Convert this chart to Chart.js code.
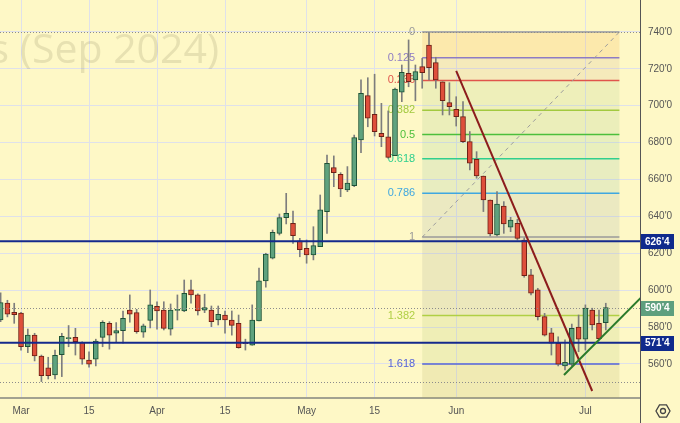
<!DOCTYPE html>
<html>
<head>
<meta charset="utf-8">
<script src="https://cdn.jsdelivr.net/npm/chart.js@4"></script>
<style>
  html, body { margin: 0; padding: 0; background: #fef8c6; }
  canvas { display: block; }
</style>
</head>
<body>
<canvas id="chart" width="680" height="423"></canvas>
<script>
// daily bars, wheat futures Sep 2024
const dates = ['Feb 27','Feb 28','Feb 29','Mar 1','Mar 4','Mar 5','Mar 6','Mar 7','Mar 8','Mar 11','Mar 12','Mar 13','Mar 14','Mar 15','Mar 18','Mar 19','Mar 20','Mar 21','Mar 22','Mar 25','Mar 26','Mar 27','Mar 28','Apr 1','Apr 2','Apr 3','Apr 4','Apr 5','Apr 8','Apr 9','Apr 10','Apr 11','Apr 12','Apr 15','Apr 16','Apr 17','Apr 18','Apr 19','Apr 22','Apr 23','Apr 24','Apr 25','Apr 26','Apr 29','Apr 30','May 1','May 2','May 3','May 6','May 7','May 8','May 9','May 10','May 13','May 14','May 15','May 16','May 17','May 20','May 21','May 22','May 23','May 24','May 28','May 29','May 30','May 31','Jun 3','Jun 4','Jun 5','Jun 6','Jun 7','Jun 10','Jun 11','Jun 12','Jun 13','Jun 14','Jun 17','Jun 18','Jun 20','Jun 21','Jun 24','Jun 25','Jun 26','Jun 27','Jun 28','Jul 1','Jul 2','Jul 3','Jul 5'];
const opens = [583.8,593,588,587.5,569.3,575.6,564.3,557.8,554,565,573.7,574.4,571.5,562.1,562.5,574.4,582,576.6,578,589.2,587.8,577.2,583.6,591.2,589.2,578.8,589,588.7,600.1,597.4,589.2,589.2,583.8,586.5,583.8,582,571.5,570.1,583.3,605,617.3,630.8,639.3,636.2,626.8,622.7,619.1,623.6,642.6,666.4,662.8,654.3,656.7,681.4,705.5,695.4,685.1,683.2,672.9,707.3,717.6,714,721.2,732.9,723.4,713,701.7,698.1,694.1,680.5,671,661.9,648.9,629.9,645.6,634.1,636.2,627.2,608.3,600.1,585.6,576.9,571.2,558.9,559.8,579.9,573.4,589.2,582,582.4];
const highs = [598.6,594.5,592.9,588,578.9,576.6,564.8,563.6,567.5,576.6,580.8,579.3,572,566.6,573.4,583.4,582.9,582.4,588.7,597.4,589.6,581.6,600.1,593.7,593.7,592.5,597.4,605.5,605.5,598,597.8,591.4,591.4,588.7,588.7,586.5,573.4,592,611.9,620,632.6,641.3,652.5,642.9,628.1,627.2,634.4,651.6,673.3,672.8,663.7,667,684.1,714,715.2,717.1,701.3,697.2,709.6,722.1,735.7,722.1,725.7,739.75,726.3,713,712.5,704.9,702.2,686,675.1,661.9,648.9,653.4,648,639.5,638.4,628.3,611.3,601,587.4,579.3,574.7,573,581.6,586.5,592,590.2,589.2,592.9];
const lows = [582.9,585.5,582,567.5,566.1,561.6,550.4,551.8,551.8,553.1,569.3,564.8,559.8,558.2,558.9,569.3,568,571.7,571.2,582.6,576.6,574.4,579.5,578.8,578.4,575.6,583.8,588.3,592.9,586.5,587.8,580.2,581.1,576.6,575.6,568.5,567.5,570.1,583.3,601.6,616.9,629.9,635.9,625.4,618.1,614.6,616.4,623.6,630.8,656.1,650.7,653.4,656.1,674.5,688.6,683.6,677.8,671.5,672.9,702.2,710.3,702.7,709.5,714,709.5,695,695,689,680,665.2,660.7,642.6,629.4,629.4,630.8,631.7,627.2,607,597.4,583.8,575.1,564.8,558.9,556.7,558.9,566.6,567.5,578.4,573.4,578.4];
const closes = [593.2,587,586.7,569.3,575.6,564.3,553.6,553.6,564.7,574.9,574,572,562.5,559.8,572.4,582.6,575.6,578,584.7,587,577.5,580.6,592,588.7,579.3,589.2,589.4,598.3,597.4,588.7,590.5,582.9,586.9,583.8,580.9,568.8,571,583.8,605,619.6,631.4,639.3,641.7,629.5,622,619.1,624.1,643.5,668.8,663.7,654.9,658,682.7,706.8,693.2,686,683.2,672,709.1,718.1,713,718.5,717.9,720.6,714,702.7,699.5,694.1,680.5,668.8,661.9,648.9,630.5,646.7,635.9,638,628.1,607.8,598.3,585.6,575.6,571.2,559.8,560.9,579.3,573.4,590.2,581.1,573.7,590.5];

const xTickDates = ['Mar 1','Mar 15','Apr 1','Apr 15','May 1','May 15','Jun 3','Jul 1'];
const xTickText = ['Mar','15','Apr','15','May','15','Jun','Jul'];
const yTicks = [560,580,600,620,640,660,680,700,720,740];

// drawing tools on the chart
const fibLevels = [0,0.125,0.236,0.382,0.5,0.618,0.786,1,1.382,1.618];
const fibColors = ['#9a9a9a','#8e7cc3','#e0554c','#a2c93f','#4cbf3c','#2fcf8e','#3fa7e0','#9a9a9a','#b0cf44','#5563d8'];
const fibBands = ['rgba(245,160,50,0.17)','rgba(190,150,120,0.14)','rgba(160,195,130,0.17)','rgba(140,190,130,0.17)','rgba(120,190,140,0.16)','rgba(120,180,160,0.16)','rgba(140,160,170,0.17)','rgba(150,155,140,0.17)','rgba(160,185,100,0.16)','rgba(170,165,90,0.17)'];
const fibHigh = 740, fibLow = 628.75, fibFrom = 62, fibTo = 91;
const solidLevels = [626.5, 571.5];
const dottedLevels = [740, 590.5, 550];
const priceTags = [626.5, 590.5, 571.5];
const priceTagColors = ['#102a8c', '#5e9f7e', '#102a8c'];
const downTrend = [[67, 718.9], [87, 545.3]];
const upTrend = [[82.85, 554], [94.2, 596]];

const fmt = v => Math.floor(v) + "'" + Math.round((v - Math.floor(v)) * 8);
const tickIdx = xTickDates.map(d => dates.indexOf(d));
const up = closes.map((c, i) => c >= opens[i]);

const drawings = {
  id: 'drawings',
  beforeDraw(chart) {
    const ctx = chart.ctx;
    ctx.save();
    ctx.fillStyle = '#fef8c6';
    ctx.fillRect(0, 0, chart.width, chart.height);
    ctx.restore();
  },
  beforeDatasetsDraw(chart) {
    const ctx = chart.ctx, X = chart.scales.x, Y = chart.scales.y, a = chart.chartArea;
    ctx.save();
    ctx.beginPath(); ctx.rect(a.left, a.top, a.right - a.left, a.bottom - a.top); ctx.clip();
    // watermark
    ctx.font = '41px "Open Sans"';
    ctx.fillStyle = 'rgba(120,115,80,0.17)';
    ctx.textAlign = 'right'; ctx.textBaseline = 'alphabetic';
    ctx.fillText('Wheat Futures (Sep 2024)', 219, 63);
    // fib bands
    const x0 = X.getPixelForValue(fibFrom), x1 = X.getPixelForValue(fibTo);
    const lv = fibLevels.map(l => Y.getPixelForValue(fibHigh - l * (fibHigh - fibLow)));
    lv.forEach((y, i) => {
      const yn = i < lv.length - 1 ? lv[i + 1] : a.bottom;
      ctx.fillStyle = fibBands[i];
      ctx.fillRect(x0, y, x1 - x0, yn - y);
    });
    lv.forEach((y, i) => {
      ctx.strokeStyle = fibColors[i]; ctx.lineWidth = 1.5;
      ctx.beginPath(); ctx.moveTo(x0, y); ctx.lineTo(x1, y); ctx.stroke();
      ctx.font = '11px "Liberation Sans"';
      ctx.fillStyle = fibColors[i];
      ctx.textAlign = 'right'; ctx.textBaseline = 'middle';
      ctx.fillText(String(fibLevels[i]), x0 - 7, y);
    });
    ctx.setLineDash([4, 4]); ctx.strokeStyle = '#9d9d9d'; ctx.lineWidth = 1;
    ctx.beginPath(); ctx.moveTo(x0, lv[7]); ctx.lineTo(x1, lv[0]); ctx.stroke();
    ctx.restore();
  },
  afterDatasetsDraw(chart) {
    const ctx = chart.ctx, X = chart.scales.x, Y = chart.scales.y, a = chart.chartArea;
    ctx.save();
    ctx.beginPath(); ctx.rect(a.left, a.top, a.right - a.left, a.bottom - a.top); ctx.clip();
    ctx.setLineDash([1, 2]); ctx.strokeStyle = '#8c8c8c'; ctx.lineWidth = 1;
    dottedLevels.forEach(p => {
      const y = Math.round(Y.getPixelForValue(p)) + 0.5;
      ctx.beginPath(); ctx.moveTo(a.left, y); ctx.lineTo(a.right, y); ctx.stroke();
    });
    ctx.setLineDash([]);
    ctx.strokeStyle = '#14298c'; ctx.lineWidth = 2;
    solidLevels.forEach(p => {
      const y = Y.getPixelForValue(p);
      ctx.beginPath(); ctx.moveTo(a.left, y); ctx.lineTo(a.right, y); ctx.stroke();
    });
    [[downTrend, '#8c1c1c'], [upTrend, '#2a7a2a']].forEach(([ln, col]) => {
      ctx.strokeStyle = col; ctx.lineWidth = 2;
      ctx.beginPath();
      ctx.moveTo(X.getPixelForValue(ln[0][0]), Y.getPixelForValue(ln[0][1]));
      ctx.lineTo(X.getPixelForValue(ln[1][0]), Y.getPixelForValue(ln[1][1]));
      ctx.stroke();
    });
    ctx.restore();
    // price tags on the axis
    ctx.save();
    priceTags.forEach((p, i) => {
      const y = Y.getPixelForValue(p);
      ctx.fillStyle = priceTagColors[i];
      ctx.fillRect(a.right + 1, Math.round(y) - 7, 33, 15);
      ctx.fillStyle = '#ffffff';
      ctx.font = 'bold 10px "Liberation Sans"';
      ctx.textAlign = 'left'; ctx.textBaseline = 'middle';
      ctx.fillText(fmt(p), a.right + 5, y + 0.5);
    });
    ctx.strokeStyle = '#555'; ctx.lineWidth = 1;
    ctx.beginPath(); ctx.moveTo(a.right + 0.5, 0); ctx.lineTo(a.right + 0.5, chart.height); ctx.stroke();
    // settings icon
    const cx = 663, cy = 411, r = 7;
    ctx.strokeStyle = '#444'; ctx.lineWidth = 1.3;
    ctx.beginPath();
    for (let k = 0; k < 6; k++) {
      const t = Math.PI / 3 * k;
      const px = cx + r * Math.cos(t), py = cy + r * Math.sin(t);
      k ? ctx.lineTo(px, py) : ctx.moveTo(px, py);
    }
    ctx.closePath(); ctx.stroke();
    ctx.beginPath(); ctx.arc(cx, cy, 2.5, 0, Math.PI * 2); ctx.stroke();
    ctx.restore();
  }
};

const ctx = document.getElementById('chart');
new Chart(ctx, {
  type: 'bar',
  data: {
    datasets: [
      {
        data: dates.map((d, i) => ({ x: i, y: [opens[i], closes[i]] })),
        backgroundColor: up.map(u => u ? '#5fa27e' : '#de4f3b'),
        borderColor: up.map(u => u ? '#1d5236' : '#6e2116'),
        borderWidth: 1,
        borderSkipped: false,
        barThickness: 5,
        minBarLength: 1,
        grouped: false,
        order: 0
      },
      {
        data: dates.map((d, i) => ({ x: i, y: [lows[i], highs[i]] })),
        backgroundColor: '#7d7d7d',
        barThickness: 1,
        grouped: false,
        order: 1
      }
    ]
  },
  options: {
    responsive: false,
    animation: false,
    devicePixelRatio: 1,
    layout: { padding: 0 },
    plugins: { legend: { display: false }, tooltip: { enabled: false } },
    scales: {
      x: {
        type: 'linear',
        min: -0.09,
        max: 94.03,
        offset: false,
        grid: { offset: false, color: '#dfe1ea', drawTicks: false },
        border: { display: true, color: '#a2a290', width: 2 },
        afterBuildTicks: s => { s.ticks = tickIdx.map(v => ({ value: v })); },
        afterFit: s => { s.height = 25; s.paddingLeft = 0; s.paddingRight = 0; },
        ticks: {
          autoSkip: false,
          maxRotation: 0,
          padding: 7,
          color: '#555',
          font: { size: 10, family: '"Liberation Sans"' },
          callback: v => xTickText[tickIdx.indexOf(v)]
        }
      },
      y: {
        position: 'right',
        min: 541.5,
        max: 757.35,
        grid: { color: '#dfe1ea', drawTicks: false },
        border: { display: false },
        afterBuildTicks: s => { s.ticks = yTicks.map(v => ({ value: v })); },
        afterFit: s => { s.width = 40; s.paddingTop = 0; s.paddingBottom = 0; },
        ticks: {
          padding: 8,
          color: '#555',
          font: { size: 10, family: '"Liberation Sans"' },
          callback: v => fmt(v)
        }
      }
    }
  },
  plugins: [drawings]
});
</script>
</body>
</html>
